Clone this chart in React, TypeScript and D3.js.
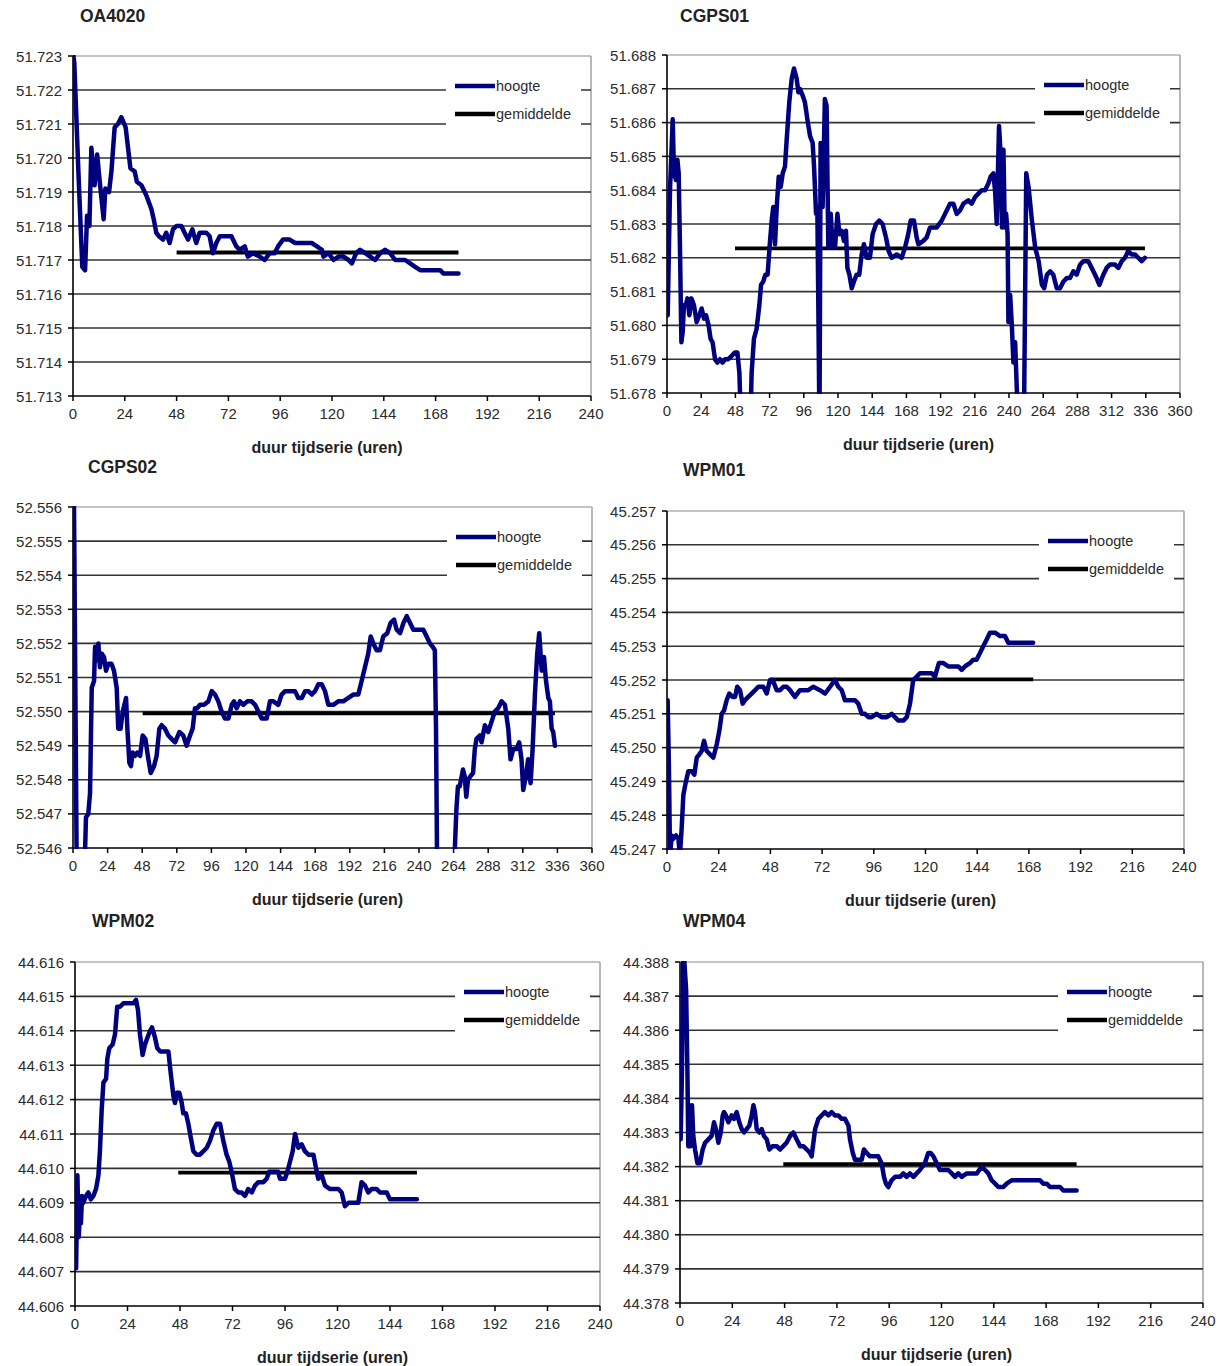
import React from "react";
import * as d3 from "d3";

type Pt = [number, number];

// ---------- data (hour, height) ----------
const OA4020_SERIES: Pt[] = [[0,51.7231],[0.6,51.7228],[2.5,51.7196],[4.3,51.7168],[5.6,51.7167],[6.5,51.7183],[7.6,51.7180],[8.5,51.7203],[10,51.7192],[11.2,51.7201],[12.4,51.7193],[14.2,51.7182],[15,51.7191],[16.7,51.7190],[17.8,51.7196],[19.3,51.7209],[20.8,51.7210],[22.4,51.7212],[24.4,51.7209],[26.6,51.7197],[28.6,51.7196],[29.6,51.7193],[31.7,51.7192],[34,51.7189],[36.3,51.7185],[37.4,51.7182],[38.6,51.7178],[39.8,51.7177],[41.7,51.7176],[43.2,51.7178],[44.8,51.7175],[46.3,51.7179],[47.9,51.7180],[50.2,51.7180],[51.7,51.7178],[53.3,51.7176],[55.3,51.7179],[57.1,51.7175],[58.7,51.7178],[61.8,51.7178],[63.3,51.7177],[64.8,51.7172],[66.4,51.7175],[68,51.7177],[71,51.7177],[73.4,51.7177],[75.7,51.7174],[77.2,51.7173],[79.6,51.7174],[81,51.7171],[83.4,51.7172],[86.5,51.7171],[88.8,51.7170],[91.1,51.7172],[93.4,51.7172],[95,51.7174],[97.3,51.7176],[100.4,51.7176],[102.9,51.7175],[106.8,51.7175],[110.6,51.7175],[113,51.7174],[115.3,51.7173],[116,51.7171],[118.4,51.7172],[120.7,51.7170],[123,51.7171],[125.3,51.7171],[127.7,51.7170],[129.2,51.7169],[131.2,51.7172],[133,51.7173],[135.4,51.7172],[137.7,51.7171],[140,51.7170],[142.3,51.7172],[144.6,51.7173],[146.9,51.7172],[149.3,51.7170],[153.9,51.7170],[156.2,51.7169],[158.5,51.7168],[160.9,51.7167],[170.1,51.7167],[171.7,51.7166],[178.6,51.7166]];
const OA4020_MEAN = 51.71722;
const OA4020_MEAN_SPAN = [48, 178.6];

const CGPS01_SERIES: Pt[] = [[0.5,51.6803],[2.1,51.6840],[4,51.6861],[4.9,51.6845],[6.3,51.6843],[7.3,51.6849],[8.2,51.6845],[9.1,51.6823],[10.1,51.6795],[11,51.6798],[11.9,51.6806],[13.3,51.6806],[14.3,51.6808],[15.7,51.6803],[17.1,51.6808],[18.9,51.6806],[20.8,51.6801],[22.7,51.6803],[24.3,51.6805],[26,51.6802],[27.4,51.6803],[29.2,51.6800],[30.6,51.6796],[32,51.6795],[33.7,51.6790],[35.3,51.6789],[37.2,51.6790],[39,51.6789],[40.7,51.6790],[43,51.6790],[45.4,51.6791],[47.7,51.6792],[49.4,51.6792],[50.8,51.6786],[51.5,51.6776],[58.8,51.6776],[59.4,51.6786],[61,51.6796],[62.9,51.6799],[64.8,51.6806],[66,51.6812],[67.6,51.6813],[69,51.6815],[70.6,51.6815],[72.3,51.6825],[73.7,51.6832],[74.6,51.6835],[75.8,51.6824],[77,51.6835],[78.4,51.6844],[79.8,51.6841],[81.2,51.6845],[82.8,51.6847],[84,51.6855],[85.8,51.6866],[87.5,51.6873],[89.1,51.6876],[91,51.6873],[92.2,51.6869],[93.3,51.6870],[95.2,51.6868],[96.8,51.6866],[98.5,51.6861],[100.4,51.6856],[102.2,51.6854],[103.2,51.6847],[104.6,51.6833],[105.5,51.6835],[106.2,51.6806],[107,51.6770],[107.8,51.6854],[109.2,51.6835],[110.8,51.6867],[112,51.6865],[113.2,51.6823],[114.9,51.6833],[116.3,51.6823],[117.9,51.6823],[119.6,51.6833],[121,51.6827],[122.6,51.6828],[124.2,51.6825],[125.6,51.6828],[126.6,51.6817],[128,51.6815],[129.6,51.6811],[131.2,51.6813],[133.1,51.6815],[134.9,51.6815],[136.6,51.6821],[138.2,51.6824],[140.1,51.6820],[142.4,51.6820],[144.3,51.6827],[146.7,51.6830],[149,51.6831],[151.3,51.6830],[153.7,51.6826],[155.5,51.6822],[157.7,51.6820],[161.2,51.6821],[164.7,51.6820],[167,51.6823],[169.3,51.6827],[171,51.6831],[173.3,51.6831],[175.2,51.6826],[176.4,51.6824],[179.9,51.6825],[182.2,51.6826],[184.6,51.6829],[189.3,51.6829],[192.8,51.6831],[195.1,51.6833],[198.6,51.6836],[201,51.6836],[203.3,51.6833],[205.6,51.6834],[208,51.6836],[211.5,51.6837],[213.8,51.6836],[216.2,51.6838],[218.5,51.6839],[220.8,51.6840],[223.2,51.6840],[225.5,51.6842],[227.1,51.6844],[229,51.6845],[230.2,51.6840],[231.4,51.6830],[232.1,51.6843],[233,51.6859],[234.2,51.6850],[235.1,51.6829],[236.1,51.6852],[237,51.6829],[238,51.6833],[239,51.6827],[239.6,51.6801],[240.8,51.6809],[242,51.6800],[243.1,51.6789],[244.3,51.6795],[245.5,51.6781],[246.5,51.6772],[250.5,51.6772],[252.1,51.6845],[253.7,51.6841],[256.1,51.6831],[258.4,51.6823],[260.8,51.6819],[263.1,51.6812],[264.7,51.6811],[266.6,51.6815],[268.9,51.6816],[271.1,51.6815],[273.5,51.6811],[275.8,51.6811],[278.2,51.6813],[280.5,51.6814],[282.8,51.6814],[285.2,51.6816],[287.5,51.6815],[289.9,51.6818],[292.2,51.6819],[295.7,51.6819],[299.2,51.6816],[301.5,51.6814],[303.4,51.6812],[306.2,51.6815],[308.5,51.6817],[310.8,51.6818],[314.4,51.6818],[316.7,51.6817],[319.1,51.6819],[321.4,51.6820],[323.7,51.6822],[326,51.6821],[328.4,51.6821],[330.7,51.6820],[333.1,51.6819],[335.4,51.6820]];
const CGPS01_MEAN = 51.68228;
const CGPS01_MEAN_SPAN = [47.7, 335.4];

const CGPS02_SERIES: Pt[] = [[0,52.5563],[0.7,52.5560],[2.5,52.5458],[8.3,52.5458],[9,52.5469],[10.6,52.5470],[11.8,52.5476],[13,52.5507],[14.6,52.5509],[15.3,52.5519],[16.4,52.5515],[17.6,52.5520],[18.7,52.5513],[19.9,52.5517],[21.5,52.5516],[22.9,52.5512],[24.5,52.5514],[26.8,52.5514],[28.4,52.5512],[30.3,52.5507],[31.4,52.5495],[33,52.5495],[34.5,52.5500],[36.8,52.5504],[37.7,52.5495],[39.1,52.5485],[40.2,52.5484],[41.4,52.5488],[43,52.5487],[44.6,52.5488],[46.5,52.5487],[48.3,52.5493],[50.2,52.5492],[52.3,52.5486],[53.9,52.5482],[56.2,52.5484],[58,52.5487],[59.9,52.5495],[61.5,52.5496],[63.8,52.5495],[66.1,52.5493],[68.4,52.5492],[70.8,52.5491],[73.8,52.5494],[76.5,52.5493],[78.8,52.5490],[81.2,52.5493],[83,52.5495],[84.6,52.5501],[86.2,52.5501],[88.1,52.5502],[90.9,52.5502],[93.9,52.5503],[96.2,52.5506],[98.5,52.5505],[100.8,52.5503],[103.1,52.5500],[105.4,52.5498],[107.8,52.5498],[110.1,52.5502],[111.7,52.5503],[113.5,52.5501],[115.8,52.5503],[118.2,52.5502],[120.9,52.5503],[123.9,52.5503],[126.3,52.5502],[128.6,52.5500],[130.9,52.5498],[134.4,52.5498],[136.6,52.5503],[139,52.5503],[142.4,52.5502],[144.7,52.5505],[147.1,52.5506],[149.4,52.5506],[151.7,52.5506],[154,52.5506],[156.3,52.5504],[158.7,52.5504],[161,52.5506],[163.3,52.5506],[165.6,52.5505],[167.9,52.5506],[170.2,52.5508],[172.5,52.5508],[174.8,52.5506],[177.1,52.5502],[180.6,52.5502],[184,52.5503],[187.5,52.5503],[191,52.5504],[194.4,52.5505],[197.9,52.5505],[200.2,52.5509],[202.5,52.5513],[204.8,52.5517],[206.5,52.5522],[208.3,52.5520],[210.6,52.5518],[212.9,52.5518],[215.2,52.5522],[218,52.5523],[220.3,52.5526],[222.7,52.5527],[224.5,52.5524],[226.9,52.5523],[229.2,52.5526],[231.5,52.5528],[233.8,52.5526],[236.1,52.5524],[239.6,52.5524],[243,52.5524],[245.3,52.5522],[247.6,52.5520],[249.5,52.5519],[251,52.5518],[251.8,52.5495],[252.5,52.5458],[264.7,52.5458],[265.9,52.5471],[267,52.5478],[268.2,52.5478],[270.5,52.5483],[271.7,52.5481],[272.8,52.5475],[274,52.5480],[275.6,52.5481],[277.5,52.5482],[278.7,52.5489],[279.9,52.5492],[282.2,52.5493],[283.4,52.5491],[285.7,52.5496],[288,52.5494],[290.3,52.5497],[292.6,52.5500],[294.9,52.5501],[297.3,52.5503],[299.6,52.5502],[301.9,52.5495],[303.5,52.5486],[305.4,52.5489],[307.7,52.5489],[309.5,52.5491],[311.1,52.5486],[312.3,52.5477],[314.1,52.5481],[315.7,52.5486],[317.4,52.5479],[318.8,52.5489],[320.4,52.5505],[322,52.5517],[323.4,52.5523],[325.1,52.5512],[326.7,52.5516],[328.1,52.5509],[329.7,52.5504],[330.8,52.5503],[332,52.5495],[333.1,52.5494],[334.3,52.5490]];
const CGPS02_MEAN = 52.54995;
const CGPS02_MEAN_SPAN = [48.3, 334.3];

const WPM01_SERIES: Pt[] = [[0.3,45.2514],[0.9,45.2494],[1.4,45.2468],[2.2,45.2474],[2.9,45.2473],[4.2,45.2474],[5.3,45.2473],[6,45.2468],[6.8,45.2476],[7.6,45.2486],[8.8,45.2490],[9.9,45.2493],[11.5,45.2493],[12.7,45.2492],[13.8,45.2497],[15,45.2498],[16.1,45.2499],[17.2,45.2502],[18.4,45.2499],[20,45.2498],[21.5,45.2497],[23.1,45.2501],[24.3,45.2505],[25.4,45.2510],[26.5,45.2511],[27.7,45.2514],[28.9,45.2516],[30.5,45.2515],[31.6,45.2515],[32.6,45.2518],[33.9,45.2517],[35.1,45.2513],[36.2,45.2514],[37.7,45.2515],[39.3,45.2516],[40.9,45.2517],[42.4,45.2518],[44.7,45.2518],[46.3,45.2516],[47.8,45.2520],[49.1,45.2520],[50.9,45.2517],[52.5,45.2517],[54,45.2518],[55.6,45.2518],[57.1,45.2517],[59.4,45.2515],[61.7,45.2517],[64.1,45.2517],[65.6,45.2517],[67.9,45.2518],[71,45.2517],[73.4,45.2516],[75.7,45.2518],[78,45.2520],[79.5,45.2518],[81.1,45.2517],[82.6,45.2514],[85,45.2514],[87.3,45.2514],[88.8,45.2513],[90.4,45.2510],[91.9,45.2510],[93.5,45.2509],[95,45.2509],[97.3,45.2510],[99.6,45.2509],[102,45.2509],[104.3,45.2510],[105.8,45.2509],[107.4,45.2508],[109.7,45.2508],[111.3,45.2509],[112.8,45.2513],[114.3,45.2520],[115.9,45.2521],[117.4,45.2522],[120.6,45.2522],[122.9,45.2522],[124.4,45.2521],[126.2,45.2525],[128.3,45.2525],[130.6,45.2524],[132.9,45.2524],[135.2,45.2524],[136.8,45.2523],[138.3,45.2524],[140.6,45.2525],[142.2,45.2526],[143.7,45.2526],[145.3,45.2528],[146.8,45.2530],[148.4,45.2532],[149.9,45.2534],[152.3,45.2534],[154.6,45.2533],[156.9,45.2533],[158.4,45.2531],[160.8,45.2531],[163.9,45.2531],[166.9,45.2531],[170,45.2531]];
const WPM01_MEAN = 45.25202;
const WPM01_MEAN_SPAN = [47.8, 170];

const WPM02_SERIES: Pt[] = [[0.5,44.6071],[1.1,44.6098],[1.7,44.6080],[2.3,44.6088],[2.7,44.6084],[3.2,44.6092],[3.8,44.6090],[5,44.6092],[6.1,44.6093],[7.2,44.6091],[8.4,44.6092],[9.6,44.6094],[10.7,44.6098],[11.4,44.6105],[12.2,44.6117],[13,44.6125],[14.2,44.6126],[14.8,44.6132],[15.7,44.6135],[17.2,44.6136],[18.3,44.6139],[19.3,44.6147],[20.6,44.6147],[22.1,44.6148],[24.4,44.6148],[26.7,44.6148],[27.9,44.6149],[28.8,44.6146],[29.7,44.6139],[30.9,44.6133],[32,44.6136],[33.1,44.6138],[34.3,44.6140],[35.2,44.6141],[36.6,44.6138],[37.6,44.6135],[38.9,44.6134],[41.2,44.6134],[42.7,44.6134],[43.7,44.6128],[45,44.6121],[45.7,44.6119],[46.5,44.6122],[47.7,44.6122],[48.8,44.6119],[49.5,44.6116],[50.7,44.6116],[51.8,44.6113],[52.9,44.6109],[54.1,44.6105],[55.6,44.6104],[57.1,44.6104],[58.7,44.6105],[60.2,44.6106],[61.7,44.6108],[63.2,44.6111],[64.8,44.6113],[66.3,44.6113],[67.8,44.6108],[69.3,44.6104],[70.5,44.6102],[71.6,44.6099],[73.1,44.6094],[74.7,44.6093],[76.2,44.6093],[77.7,44.6092],[79.2,44.6094],[80.8,44.6093],[82.3,44.6095],[83.8,44.6096],[86.1,44.6096],[87.6,44.6097],[88.8,44.6099],[90.7,44.6099],[92.9,44.6099],[93.7,44.6097],[96,44.6097],[97.1,44.6099],[98.3,44.6102],[99.5,44.6105],[100.6,44.6110],[102.1,44.6106],[103.6,44.6107],[105.1,44.6105],[106.7,44.6104],[109,44.6104],[110.2,44.6100],[111.2,44.6097],[112.8,44.6098],[114.3,44.6095],[116.6,44.6094],[120.4,44.6094],[121.9,44.6093],[123.4,44.6089],[125,44.6090],[127.2,44.6090],[129.5,44.6090],[131,44.6096],[132.6,44.6095],[134.1,44.6093],[135.6,44.6094],[137.9,44.6094],[139.4,44.6093],[142.5,44.6093],[144,44.6091],[148.6,44.6091],[156.3,44.6091]];
const WPM02_MEAN = 44.60988;
const WPM02_MEAN_SPAN = [47.2, 156.3];

const WPM04_SERIES: Pt[] = [[0.3,44.3828],[0.9,44.3848],[1.5,44.3885],[2.8,44.3872],[3.4,44.3848],[3.8,44.3826],[4.3,44.3838],[4.9,44.3826],[5.5,44.3838],[6.1,44.3829],[6.9,44.3825],[8,44.3821],[9.2,44.3821],[10.4,44.3825],[11.5,44.3827],[13,44.3828],[14.5,44.3829],[15.6,44.3833],[16.5,44.3831],[17.6,44.3827],[18.7,44.3830],[19.6,44.3835],[20.2,44.3836],[21.1,44.3835],[22.2,44.3833],[23.7,44.3835],[24.8,44.3834],[26,44.3836],[27.2,44.3833],[28.3,44.3831],[29.4,44.3830],[30.6,44.3831],[31.8,44.3832],[32.9,44.3835],[33.7,44.3838],[34.4,44.3836],[35.2,44.3831],[36.4,44.3830],[37.5,44.3831],[38.5,44.3829],[39.8,44.3828],[41,44.3825],[42.5,44.3826],[44.4,44.3826],[45.9,44.3825],[47.4,44.3826],[48.9,44.3827],[50.5,44.3829],[52,44.3830],[53.5,44.3828],[55.1,44.3826],[56.6,44.3826],[58.2,44.3825],[59.7,44.3824],[60.4,44.3823],[62,44.3831],[63.5,44.3834],[65,44.3835],[66.5,44.3836],[68.1,44.3835],[69.6,44.3836],[71.1,44.3835],[72.7,44.3835],[74.2,44.3834],[75.7,44.3834],[77.3,44.3832],[78,44.3828],[79.3,44.3824],[80.3,44.3822],[81.8,44.3822],[83.4,44.3822],[84.4,44.3825],[85.7,44.3824],[87.2,44.3823],[89.5,44.3823],[91,44.3823],[92.5,44.3821],[93.6,44.3817],[94.5,44.3815],[95.6,44.3814],[97.1,44.3816],[98.7,44.3817],[101,44.3817],[102.5,44.3818],[104,44.3817],[105.5,44.3818],[107.1,44.3817],[108.6,44.3818],[110.1,44.3819],[112.4,44.3821],[113.9,44.3824],[115,44.3824],[116.3,44.3823],[117.8,44.3821],[119.3,44.3819],[121.6,44.3819],[123.1,44.3819],[124.7,44.3818],[126.2,44.3817],[127.7,44.3818],[129.3,44.3817],[131.6,44.3818],[133.9,44.3818],[136.2,44.3818],[138.4,44.3820],[140,44.3819],[141.5,44.3818],[143,44.3816],[144.6,44.3815],[146.1,44.3814],[148.4,44.3814],[149.9,44.3815],[152.2,44.3816],[154.5,44.3816],[156.8,44.3816],[159.1,44.3816],[161.4,44.3816],[163.7,44.3816],[165.2,44.3816],[166.7,44.3815],[168.3,44.3815],[169.8,44.3814],[172.1,44.3814],[174.4,44.3814],[175.9,44.3813],[177.4,44.3813],[180.5,44.3813],[182,44.3813]];
const WPM04_MEAN = 44.38207;
const WPM04_MEAN_SPAN = [47.4, 182];

const TITLES = ["OA4020", "CGPS01", "CGPS02", "WPM01", "WPM02", "WPM04"];
const X_MAX = [240, 360, 360, 240, 240, 240];
const Y_MIN = [51.713, 51.678, 52.546, 45.247, 44.606, 44.378];
const Y_STEP = 0.001;
const Y_COUNT = 10;
const X_STEP = 24;
const LEGEND_LABELS = ["hoogte", "gemiddelde"];
const X_TITLE = "duur tijdserie (uren)";

const SERIES = [OA4020_SERIES, CGPS01_SERIES, CGPS02_SERIES, WPM01_SERIES, WPM02_SERIES, WPM04_SERIES];
const MEANS = [OA4020_MEAN, CGPS01_MEAN, CGPS02_MEAN, WPM01_MEAN, WPM02_MEAN, WPM04_MEAN];
const MEAN_SPANS = [OA4020_MEAN_SPAN, CGPS01_MEAN_SPAN, CGPS02_MEAN_SPAN, WPM01_MEAN_SPAN, WPM02_MEAN_SPAN, WPM04_MEAN_SPAN];

// ---------- layout ----------
const LAYOUT = [
  { l: 73, t: 56, r: 591, b: 396, tx: 80, ty: 16 },
  { l: 667, t: 55, r: 1180, b: 393, tx: 680, ty: 16 },
  { l: 73, t: 507, r: 592, b: 848, tx: 88, ty: 467 },
  { l: 667, t: 511, r: 1184, b: 849, tx: 683, ty: 470 },
  { l: 75, t: 962, r: 600, b: 1306, tx: 92, ty: 921 },
  { l: 680, t: 962, r: 1203, b: 1303, tx: 683, ty: 921 },
];

const BLUE = "#00007f";
const FONT = "Arial, 'Liberation Sans', sans-serif";
const TXT = "#2b2b2b";

function Panel({ i }: { i: number }) {
  const L = LAYOUT[i];
  const x = d3.scaleLinear().domain([0, X_MAX[i]]).range([L.l, L.r]);
  const yMax = Y_MIN[i] + Y_STEP * Y_COUNT;
  const y = d3.scaleLinear().domain([Y_MIN[i], yMax]).range([L.b, L.t]);
  const yTicks = d3.range(0, Y_COUNT + 1).map((k) => Y_MIN[i] + k * Y_STEP);
  const xTicks = d3.range(0, X_MAX[i] + 1, X_STEP);
  const line = d3.line<Pt>().x((d) => x(d[0])).y((d) => y(d[1]));
  const fmt = d3.format(".3f");
  const clipId = `clip${i}`;
  const legL = L.r - 145;
  const legR = L.r - 10;
  const ly1 = L.t + 30;
  const ly2 = L.t + 58;
  return (
    <g>
      <defs>
        <clipPath id={clipId}>
          <rect x={L.l} y={L.t - 1} width={L.r - L.l} height={L.b - L.t + 2} />
        </clipPath>
      </defs>
      <text x={L.tx} y={L.ty} dominantBaseline="central" fontFamily={FONT} fontWeight="bold" fontSize={17.5} fill="#222">
        {TITLES[i]}
      </text>
      {/* plot border */}
      <line x1={L.l} x2={L.r} y1={L.t} y2={L.t} stroke="#b0b0b0" strokeWidth={1.5} />
      <line x1={L.r} x2={L.r} y1={L.t} y2={L.b} stroke="#a0a0a0" strokeWidth={1.5} />
      {/* gridlines */}
      {yTicks.slice(1, -1).map((v, k) => (
        <line key={k} x1={L.l} x2={L.r} y1={y(v)} y2={y(v)} stroke="#333" strokeWidth={1.6} />
      ))}
      {/* legend box */}
      <rect x={legL} y={L.t + 12} width={legR - legL} height={62} fill="#fff" />
      <line x1={legL + 9} x2={legL + 49} y1={ly1} y2={ly1} stroke={BLUE} strokeWidth={4.5} />
      <line x1={legL + 9} x2={legL + 49} y1={ly2} y2={ly2} stroke="#000" strokeWidth={4.5} />
      <text x={legL + 50} y={ly1} dominantBaseline="central" fontFamily={FONT} fontSize={14.5} fill={TXT}>{LEGEND_LABELS[0]}</text>
      <text x={legL + 50} y={ly2} dominantBaseline="central" fontFamily={FONT} fontSize={14.5} fill={TXT}>{LEGEND_LABELS[1]}</text>
      {/* axes */}
      <line x1={L.l} x2={L.l} y1={L.t} y2={L.b} stroke="#000" strokeWidth={1.6} />
      <line x1={L.l} x2={L.r} y1={L.b} y2={L.b} stroke="#000" strokeWidth={1.6} />
      {yTicks.map((v, k) => (
        <g key={k}>
          <line x1={L.l - 5} x2={L.l} y1={y(v)} y2={y(v)} stroke="#000" strokeWidth={1.5} />
          <text x={L.l - 11} y={y(v)} textAnchor="end" dominantBaseline="central" fontFamily={FONT} fontSize={15} fill={TXT}>
            {fmt(v)}
          </text>
        </g>
      ))}
      {xTicks.map((v, k) => (
        <g key={k}>
          <line x1={x(v)} x2={x(v)} y1={L.b} y2={L.b + 5} stroke="#000" strokeWidth={1.5} />
          <text x={x(v)} y={L.b + 17} textAnchor="middle" dominantBaseline="central" fontFamily={FONT} fontSize={15} fill={TXT}>
            {v}
          </text>
        </g>
      ))}
      <text x={(L.l + L.r) / 2 - 5} y={L.b + 51} textAnchor="middle" dominantBaseline="central" fontFamily={FONT} fontWeight="bold" fontSize={16} fill="#222">
        {X_TITLE}
      </text>
      {/* series */}
      <g clipPath={`url(#${clipId})`}>
        <line
          x1={x(MEAN_SPANS[i][0])}
          x2={x(MEAN_SPANS[i][1])}
          y1={y(MEANS[i])}
          y2={y(MEANS[i])}
          stroke="#000"
          strokeWidth={3.8}
        />
        <path d={line(SERIES[i]) || ""} fill="none" stroke={BLUE} strokeWidth={4.5} strokeLinejoin="round" strokeLinecap="round" />
      </g>
    </g>
  );
}

export default function App() {
  return (
    <svg width={1224} height={1366} style={{ position: "absolute", left: 0, top: 0, background: "#fff" }}>
      <rect width={1224} height={1366} fill="#fff" />
      {LAYOUT.map((_, i) => (
        <Panel key={i} i={i} />
      ))}
    </svg>
  );
}
